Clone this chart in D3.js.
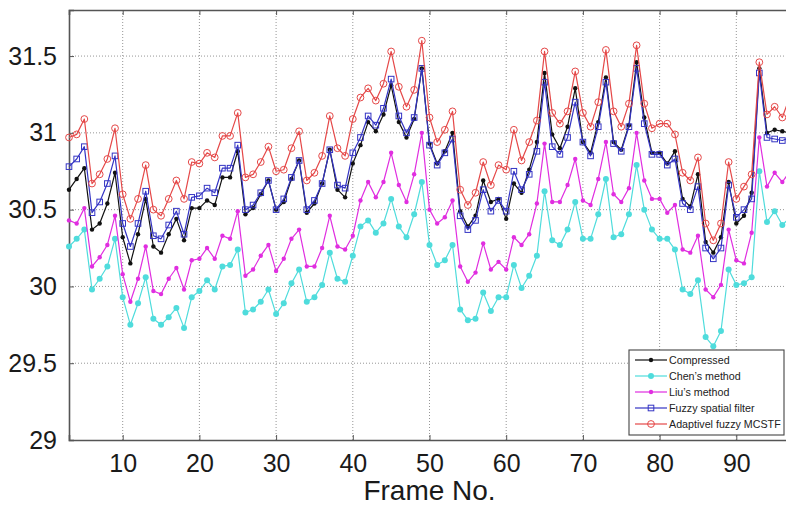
<!DOCTYPE html>
<html>
<head>
<meta charset="utf-8">
<script src="https://cdn.jsdelivr.net/npm/d3@7/dist/d3.min.js"></script>
<style>
  html, body { margin: 0; padding: 0; background: #fff; }
  svg { display: block; font-family: "Liberation Sans", Arial, Helvetica, sans-serif; }
</style>
</head>
<body>
<svg id="chart" width="786" height="505"></svg>
<script>
// ---- data (frames 3..97) ----
const frames = d3.range(3, 98);

const compressed = [30.63,30.70,30.77,30.37,30.41,30.54,30.74,30.32,30.15,30.34,
  30.57,30.26,30.22,30.34,30.44,30.30,30.51,30.51,30.56,30.53,
  30.71,30.71,30.88,30.47,30.51,30.60,30.69,30.50,30.55,30.70,
  30.82,30.48,30.54,30.67,30.89,30.63,30.58,30.80,30.92,31.07,
  31.01,31.12,31.31,31.07,30.97,31.09,31.42,30.93,30.80,30.88,
  31.00,30.49,30.39,30.46,30.69,30.55,30.57,30.44,30.67,30.61,
  30.76,30.94,31.39,30.99,30.90,31.04,31.29,30.94,30.87,31.07,
  31.36,30.94,30.89,31.05,31.46,31.10,30.87,30.87,30.80,30.88,
  30.57,30.52,30.73,30.29,30.22,30.32,30.68,30.41,30.46,30.61,
  31.42,31.00,31.02,31.01,31.00];

const chen = [30.26,30.31,30.37,29.98,30.05,30.13,30.31,29.93,29.75,29.89,
  30.06,29.79,29.75,29.80,29.86,29.73,29.93,29.97,30.04,29.98,
  30.13,30.14,30.24,29.83,29.85,29.90,29.98,29.82,29.89,30.02,
  30.11,29.90,29.93,30.01,30.22,30.05,30.03,30.20,30.39,30.43,
  30.35,30.41,30.57,30.39,30.32,30.47,30.68,30.27,30.14,30.17,
  30.27,29.85,29.78,29.79,29.96,29.84,29.93,29.93,30.14,29.99,
  30.07,30.20,30.62,30.30,30.27,30.37,30.55,30.31,30.31,30.47,
  30.70,30.32,30.34,30.47,30.79,30.50,30.37,30.31,30.31,30.24,
  29.98,29.95,30.04,29.67,29.61,29.71,30.11,30.01,30.02,30.06,
  30.75,30.42,30.49,30.40,30.45];

const liu = [30.43,30.41,30.51,30.13,30.19,30.27,30.46,30.08,29.90,30.05,
  30.26,29.97,29.95,30.05,30.12,29.98,30.17,30.18,30.25,30.18,
  30.33,30.31,30.49,30.07,30.11,30.20,30.27,30.10,30.18,30.31,
  30.37,30.13,30.13,30.25,30.46,30.26,30.24,30.33,30.56,30.68,
  30.58,30.68,30.87,30.66,30.55,30.73,31.00,30.50,30.41,30.45,
  30.56,30.13,30.03,30.09,30.28,30.11,30.16,30.11,30.32,30.27,
  30.34,30.54,30.93,30.55,30.55,30.66,30.83,30.56,30.53,30.70,
  30.94,30.60,30.55,30.64,31.00,30.69,30.57,30.57,30.48,30.53,
  30.24,30.22,30.33,29.98,29.93,30.01,30.37,30.17,30.15,30.35,
  30.97,30.65,30.74,30.68,30.75];

const fuzzy = [30.78,30.83,30.91,30.48,30.55,30.67,30.85,30.41,30.26,30.41,
  30.62,30.33,30.31,30.40,30.49,30.34,30.58,30.59,30.64,30.61,
  30.77,30.77,30.92,30.50,30.53,30.61,30.69,30.50,30.57,30.71,
  30.82,30.50,30.56,30.67,30.89,30.66,30.64,30.87,30.97,31.11,
  31.05,31.16,31.35,31.11,31.00,31.10,31.42,30.92,30.79,30.87,
  30.96,30.46,30.37,30.43,30.63,30.49,30.56,30.49,30.75,30.63,
  30.73,30.88,31.33,30.91,30.86,30.97,31.20,30.94,30.85,31.04,
  31.33,30.93,30.88,31.04,31.42,31.06,30.86,30.86,30.79,30.83,
  30.54,30.50,30.65,30.25,30.18,30.25,30.66,30.45,30.50,30.57,
  31.39,30.97,30.96,30.95,30.97];

const adaptive = [30.97,30.99,31.09,30.67,30.73,30.83,31.03,30.60,30.44,30.57,
  30.79,30.50,30.46,30.57,30.69,30.57,30.81,30.80,30.87,30.84,
  30.98,30.98,31.13,30.71,30.73,30.81,30.91,30.75,30.76,30.90,
  31.01,30.69,30.74,30.85,31.11,30.90,30.85,31.09,31.23,31.29,
  31.21,31.32,31.53,31.30,31.17,31.28,31.60,31.10,30.94,31.02,
  31.14,30.63,30.53,30.61,30.81,30.66,30.79,30.76,31.02,30.82,
  30.94,31.08,31.53,31.13,31.06,31.14,31.40,31.13,31.04,31.20,
  31.54,31.14,31.04,31.19,31.57,31.19,31.03,31.06,31.06,30.99,
  30.74,30.69,30.84,30.41,30.30,30.41,30.81,30.57,30.65,30.73,
  31.46,31.12,31.17,31.10,31.24];

const seriesNames = ["Compressed", "Chen\u2019s method", "Liu\u2019s method", "Fuzzy spatial filter", "Adaptivel fuzzy MCSTF"];
const xTicks = [10, 20, 30, 40, 50, 60, 70, 80, 90];
const yTicks = [29, 29.5, 30, 30.5, 31, 31.5];
const xTitle = "Frame No.";

// ---- styles ----
const styles = [
  { color: "#111111", marker: "dot",    r: 2.2 },
  { color: "#4fdcdc", marker: "dot",    r: 3.0 },
  { color: "#e02ee0", marker: "dot",    r: 2.2 },
  { color: "#3434c4", marker: "square", r: 2.8 },
  { color: "#e54848", marker: "circle", r: 3.4 }
];
const allSeries = [compressed, chen, liu, fuzzy, adaptive];

const svg = d3.select("#chart");
const L = 69, R = 790, T = 10, B = 440;
const x = d3.scaleLinear().domain([3, 97]).range([L, R]);
const y = d3.scaleLinear().domain([29, 31.8]).range([B, T]);

const axisColor = "#555";

// grid
const grid = svg.append("g");
grid.selectAll("line.gx").data(xTicks).join("line")
  .attr("x1", d => x(d)).attr("x2", d => x(d)).attr("y1", T).attr("y2", B)
  .attr("stroke", "#8a8a8a").attr("stroke-width", 0.9).attr("stroke-dasharray", "1,2");
grid.selectAll("line.gy").data(yTicks.filter(d => d > 29)).join("line")
  .attr("x1", L).attr("x2", R).attr("y1", d => y(d)).attr("y2", d => y(d))
  .attr("stroke", "#8a8a8a").attr("stroke-width", 0.9).attr("stroke-dasharray", "1,2");

// axes with D3 axis generators
const xAxis = svg.append("g").attr("transform", `translate(0,${B})`)
  .call(d3.axisBottom(x).tickValues(xTicks).tickSize(-5).tickPadding(14).tickFormat(d3.format("d")));
const xAxisTop = svg.append("g").attr("transform", `translate(0,${T})`)
  .call(d3.axisTop(x).tickValues(xTicks).tickSize(-5).tickFormat(""));
const yAxis = svg.append("g").attr("transform", `translate(${L},0)`)
  .call(d3.axisLeft(y).tickValues(yTicks).tickSize(-5).tickPadding(12).tickFormat(d => d3.format("")(d)));

[xAxis, xAxisTop, yAxis].forEach(g => {
  g.select(".domain").attr("stroke", axisColor).attr("stroke-width", 1.6);
  g.selectAll(".tick line").attr("stroke", axisColor).attr("stroke-width", 1);
  g.selectAll("text").attr("fill", "#1a1a1a").attr("font-size", 25)
    .attr("font-family", "\"Liberation Sans\", Arial, sans-serif");
});
xAxis.selectAll("text").attr("dy", "0.71em");

// title
svg.append("text").attr("x", (L + R) / 2).attr("y", 500)
  .attr("text-anchor", "middle").attr("font-size", 28).attr("fill", "#1a1a1a")
  .text(xTitle);

// series
const line = d3.line().x((d, i) => x(frames[i])).y(d => y(d));
const plot = svg.append("g");
function drawMarker(g, st, cx, cy) {
  if (st.marker === "dot") {
    g.append("circle").attr("cx", cx).attr("cy", cy).attr("r", st.r).attr("fill", st.color);
  } else if (st.marker === "square") {
    g.append("rect").attr("x", cx - st.r).attr("y", cy - st.r)
      .attr("width", st.r * 2).attr("height", st.r * 2)
      .attr("fill", "none").attr("stroke", st.color).attr("stroke-width", 1);
  } else {
    g.append("circle").attr("cx", cx).attr("cy", cy).attr("r", st.r)
      .attr("fill", "none").attr("stroke", st.color).attr("stroke-width", 1);
  }
}
allSeries.forEach((vals, si) => {
  const st = styles[si];
  const g = plot.append("g");
  g.append("path").datum(vals).attr("d", line)
    .attr("fill", "none").attr("stroke", st.color).attr("stroke-width", 1.2)
    .attr("stroke-linejoin", "round");
  vals.forEach((v, i) => drawMarker(g, st, x(frames[i]), y(v)));
});

// legend
const lg = svg.append("g");
const lx = 629, ly = 350, lw = 155, lh = 85;
lg.append("rect").attr("x", lx).attr("y", ly).attr("width", lw).attr("height", lh)
  .attr("fill", "#fff").attr("stroke", "#444").attr("stroke-width", 1.1);
seriesNames.forEach((name, i) => {
  const st = styles[i];
  const cy = ly + 10 + i * 16;
  lg.append("line").attr("x1", lx + 6).attr("x2", lx + 38).attr("y1", cy).attr("y2", cy)
    .attr("stroke", st.color).attr("stroke-width", 1.2);
  drawMarker(lg, st, lx + 22, cy);
  lg.append("text").attr("x", lx + 40).attr("y", cy).attr("dy", "0.35em")
    .attr("font-size", 10.7).attr("fill", "#222").text(name);
});
</script>
</body>
</html>
